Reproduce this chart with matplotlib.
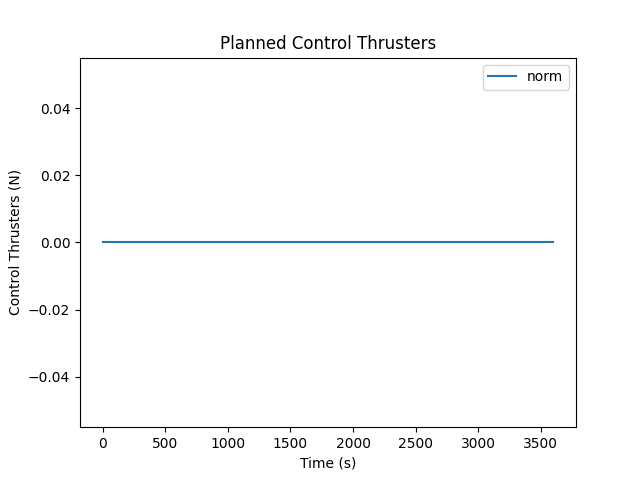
import matplotlib
matplotlib.use("Agg")
import matplotlib.pyplot as plt

# data
time_s = [0, 600, 1200, 1800, 2400, 3000, 3600]
thrust_norm = [0.0, 0.0, 0.0, 0.0, 0.0, 0.0, 0.0]

fig, ax = plt.subplots(figsize=(6.4, 4.8), dpi=100)
ax.plot(time_s, thrust_norm, label='norm')
ax.set_title('Planned Control Thrusters')
ax.set_xlabel('Time (s)')
ax.set_ylabel('Control Thrusters (N)')
ax.legend()

fig.savefig('out.png')
